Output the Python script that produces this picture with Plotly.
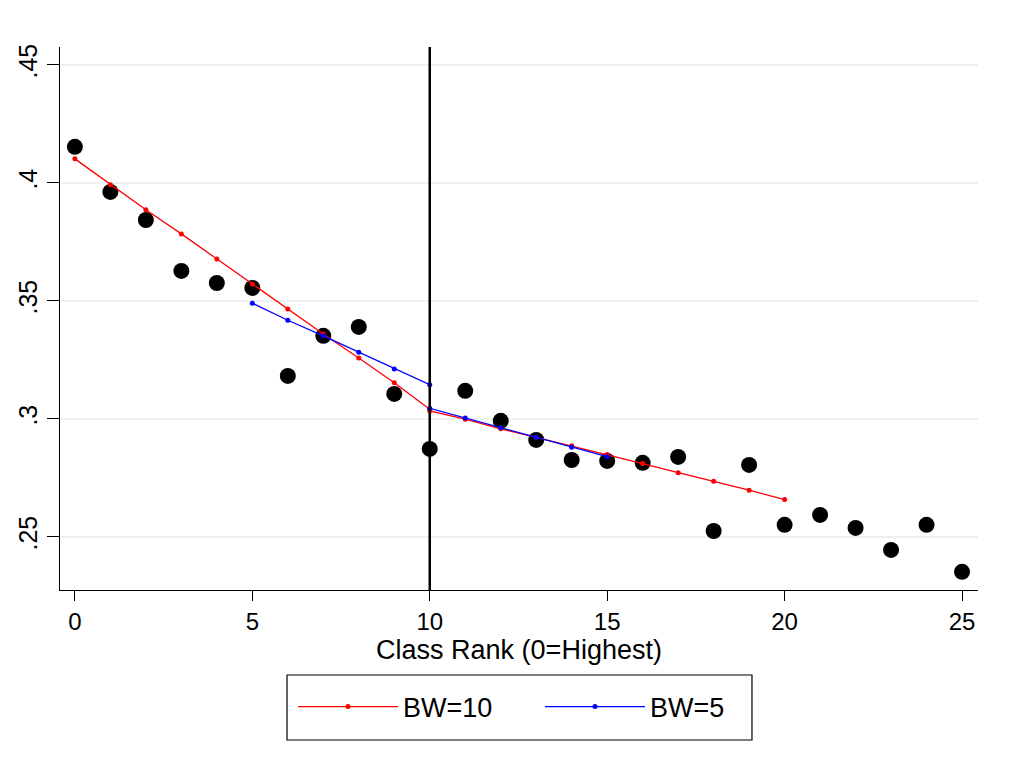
import plotly.graph_objects as go

# Data
rank = list(range(26))
share = [0.4153, 0.3962, 0.3843, 0.3627, 0.3576, 0.3555, 0.3182, 0.3352, 0.3390, 0.3106,
         0.2873, 0.3119, 0.2992, 0.2911, 0.2826, 0.2822, 0.2814, 0.2839, 0.2525, 0.2805,
         0.2551, 0.2593, 0.2538, 0.2445, 0.2551, 0.2352]

bw10_x = [0, 1, 2, 3, 4, 5, 6, 7, 8, 9, 10, 10, 11, 12, 13, 14, 15, 16, 17, 18, 19, 20]
bw10_y = [0.4102, 0.3992, 0.3886, 0.3784, 0.3678, 0.3572, 0.3466, 0.3360, 0.3258, 0.3153, 0.3041,
          0.3034, 0.2999, 0.2958, 0.2922, 0.2886, 0.2849, 0.2811, 0.2772, 0.2736, 0.2698, 0.2658]

bw5_x = [5, 6, 7, 8, 9, 10, 10, 11, 12, 13, 14, 15]
bw5_y = [0.3490, 0.3418, 0.3352, 0.3283, 0.3212, 0.3145,
         0.3045, 0.3004, 0.2963, 0.2922, 0.2880, 0.2840]

cutoff = 10
x_ticks = [0, 5, 10, 15, 20, 25]
y_ticks = [0.25, 0.3, 0.35, 0.4, 0.45]
y_labels = [".25", ".3", ".35", ".4", ".45"]

FONT = "Liberation Sans, Arial, sans-serif"

fig = go.Figure()
fig.add_trace(go.Scatter(x=rank, y=share, mode="markers",
                         marker=dict(color="black", size=16), showlegend=False))
fig.add_trace(go.Scatter(x=bw10_x, y=bw10_y, mode="lines+markers", name="BW=10",
                         line=dict(color="red", width=1.3), marker=dict(color="red", size=5)))
fig.add_trace(go.Scatter(x=bw5_x, y=bw5_y, mode="lines+markers", name="BW=5",
                         line=dict(color="blue", width=1.3), marker=dict(color="blue", size=5)))

fig.add_vline(x=cutoff, line=dict(color="black", width=2.5), layer="above")

# legend frame (paper coordinates)
fig.add_shape(type="rect", xref="paper", yref="paper",
              x0=0.2473, x1=0.7538, y0=-0.2762, y1=-0.1565,
              line=dict(color="black", width=1.2), fillcolor="rgba(0,0,0,0)")

fig.update_layout(
    width=1011, height=770,
    margin=dict(l=52, r=41, t=39, b=188, autoexpand=False),
    paper_bgcolor="white", plot_bgcolor="white",
    font=dict(family=FONT, size=24, color="black"),
    legend=dict(orientation="h", x=0.2538, xanchor="left", y=-0.2155, yanchor="middle",
                borderwidth=0, itemwidth=100, entrywidth=132, entrywidthmode="pixels",
                bgcolor="rgba(0,0,0,0)", font=dict(size=27), tracegroupgap=0),
    xaxis=dict(range=[-0.42, 25.45], tickvals=x_ticks, showgrid=False, zeroline=False,
               showline=True, linecolor="black", linewidth=1.2, ticks="outside",
               ticklen=10, tickcolor="black", tickfont=dict(size=24), automargin=False,
               title=dict(text="Class Rank (0=Highest)", standoff=2, font=dict(size=27))),
    yaxis=dict(range=[0.2275, 0.4576], tickvals=y_ticks, ticktext=y_labels, tickangle=-90,
               showgrid=True, gridcolor="#eaf2f3", gridwidth=2, zeroline=False,
               showline=True, linecolor="black", linewidth=1.2, ticks="outside",
               ticklen=12, tickcolor="black", tickfont=dict(size=25), automargin=False),
)

fig.write_html("out.html")
